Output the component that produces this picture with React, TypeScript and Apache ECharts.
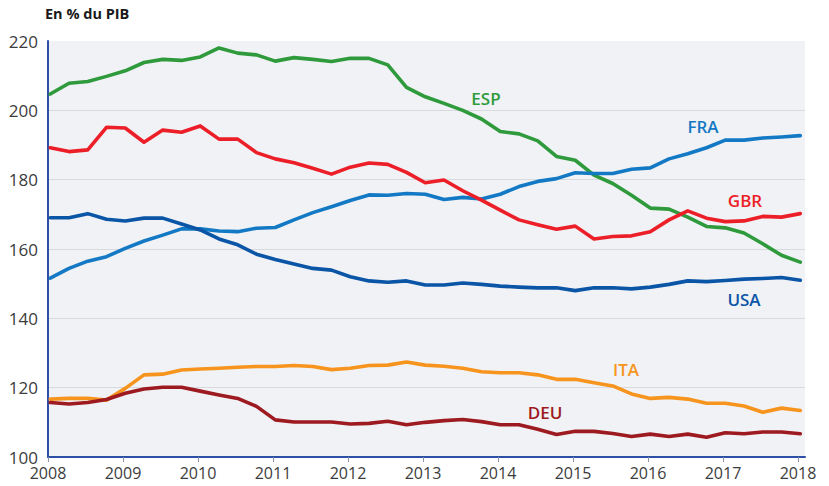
import React, { useEffect, useRef } from "react";
import * as echarts from "echarts";

const startYear = 2008;
const quarterCount = 41;
const yearTicks = [2008, 2009, 2010, 2011, 2012, 2013, 2014, 2015, 2016, 2017, 2018];

const ESP = [204.7, 207.8, 208.3, 209.8, 211.4, 213.8, 214.7, 214.4, 215.4, 218.0, 216.5, 216.0,
  214.2, 215.2, 214.7, 214.1, 215.0, 215.0, 213.1, 206.6, 203.9, 202.0, 200.0, 197.5,
  193.9, 193.2, 191.2, 186.7, 185.6, 181.3, 178.9, 175.5, 171.8, 171.5, 169.2, 166.5,
  166.1, 164.6, 161.5, 158.2, 156.2];
const FRA = [151.6, 154.4, 156.5, 157.8, 160.2, 162.3, 164.0, 165.8, 165.8, 165.2, 165.0, 166.0,
  166.2, 168.4, 170.5, 172.2, 174.0, 175.6, 175.5, 176.0, 175.8, 174.3, 174.9, 174.4,
  175.8, 178.0, 179.5, 180.3, 182.0, 181.8, 181.8, 183.0, 183.4, 186.0, 187.5, 189.2,
  191.4, 191.4, 192.0, 192.3, 192.7];
const USA = [169.0, 169.0, 170.2, 168.6, 168.1, 168.9, 168.9, 167.2, 165.5, 162.9, 161.2, 158.5,
  157.0, 155.7, 154.4, 153.9, 152.0, 150.8, 150.4, 150.8, 149.6, 149.6, 150.2, 149.8,
  149.3, 149.0, 148.8, 148.8, 148.0, 148.8, 148.8, 148.5, 149.0, 149.8, 150.8, 150.6,
  150.9, 151.3, 151.5, 151.8, 151.0];
const GBR = [189.2, 188.1, 188.6, 195.1, 194.9, 190.8, 194.3, 193.7, 195.5, 191.7, 191.7, 187.8,
  186.0, 184.9, 183.3, 181.6, 183.6, 184.8, 184.4, 182.1, 179.1, 179.9, 176.8, 174.1,
  171.2, 168.4, 167.0, 165.7, 166.6, 162.9, 163.6, 163.8, 165.0, 168.4, 171.0, 168.9,
  167.9, 168.1, 169.4, 169.2, 170.2];
const ITA = [116.7, 116.9, 116.9, 116.4, 119.8, 123.7, 123.9, 125.1, 125.4, 125.6, 125.9, 126.1,
  126.1, 126.4, 126.1, 125.2, 125.6, 126.4, 126.5, 127.4, 126.5, 126.2, 125.6, 124.6,
  124.3, 124.3, 123.7, 122.4, 122.4, 121.4, 120.5, 118.2, 116.9, 117.2, 116.7, 115.5,
  115.5, 114.7, 112.9, 114.1, 113.4];
const DEU = [115.7, 115.3, 115.7, 116.6, 118.4, 119.6, 120.1, 120.1, 119.0, 117.9, 116.9, 114.6,
  110.7, 110.1, 110.1, 110.1, 109.5, 109.7, 110.3, 109.3, 110.0, 110.5, 110.8, 110.2,
  109.3, 109.3, 108.0, 106.5, 107.4, 107.4, 106.8, 105.9, 106.6, 105.9, 106.6, 105.7,
  107.0, 106.7, 107.2, 107.2, 106.7];

const seriesDefs = [
  { name: "ESP", values: ESP, color: "#2e9a3c", label: [486, 98] },
  { name: "FRA", values: FRA, color: "#1479c4", label: [703, 126] },
  { name: "GBR", values: GBR, color: "#ec1f29", label: [745, 200] },
  { name: "USA", values: USA, color: "#0b55a7", label: [744, 299] },
  { name: "ITA", values: ITA, color: "#f7941e", label: [626, 369] },
  { name: "DEU", values: DEU, color: "#9d1a20", label: [545, 412] },
];

const FONT = "'Open Sans', 'Noto Sans', sans-serif";

export default function App() {
  const ref = useRef<HTMLDivElement>(null);
  useEffect(() => {
    if (!ref.current) return;
    const chart = echarts.init(ref.current, null, { renderer: "svg" });
    const xOf = (i: number) => startYear + 0.03 + i / 4;
    chart.setOption({
      animation: false,
      textStyle: { fontFamily: FONT },
      grid: {
        left: 48, right: 24, top: 41, bottom: 29,
        show: true, backgroundColor: "#f0f2f5", borderWidth: 0,
      },
      xAxis: {
        type: "value",
        min: 2008,
        max: 2018.0933,
        interval: 1,
        axisLine: { show: true, lineStyle: { color: "#2b50a6", width: 2 } },
        axisTick: {
          show: true, length: 5, customValues: yearTicks,
          lineStyle: { color: "#8a94a8", width: 1 },
        },
        axisLabel: {
          customValues: yearTicks,
          color: "#3c3c3c", fontSize: 16, margin: 8, fontFamily: FONT,
          formatter: (v: number) => String(v),
        },
        splitLine: { show: false },
      },
      yAxis: {
        type: "value",
        min: 100,
        max: 220,
        interval: 20,
        axisLine: { show: true, lineStyle: { color: "#2b50a6", width: 2 } },
        axisTick: { show: false },
        axisLabel: { color: "#3c3c3c", fontSize: 17, margin: 10, fontFamily: FONT },
        splitLine: {
          show: true,
          lineStyle: {
            color: ["transparent", "#d8dade", "#d8dade", "#d8dade", "#d8dade", "#d8dade", "transparent"],
            width: 1,
          },
        },
      },
      series: seriesDefs.map((s) => ({
        name: s.name,
        type: "line",
        data: s.values.slice(0, quarterCount).map((v, i) => [xOf(i), v]),
        showSymbol: false,
        symbol: "none",
        clip: false,
        lineStyle: { color: s.color, width: 3.6, join: "round", cap: "round" },
        itemStyle: { color: s.color },
        z: 3,
      })),
      graphic: [
        {
          type: "text", left: 45, top: 6,
          style: { text: "En % du PIB", fontSize: 14.5, fontWeight: "bold", fill: "#1a1a1a", fontFamily: FONT },
        },
        ...seriesDefs.map((s) => ({
          type: "text",
          x: s.label[0],
          y: s.label[1],
          z: 10,
          style: {
            text: s.name, fill: s.color, fontSize: 17, fontWeight: 600, fontFamily: FONT,
            textAlign: "center", textVerticalAlign: "middle",
          },
        })),
      ],
    });
    return () => chart.dispose();
  }, []);
  return <div ref={ref} style={{ width: 829, height: 486, position: "absolute", left: 0, top: 0 }} />;
}
